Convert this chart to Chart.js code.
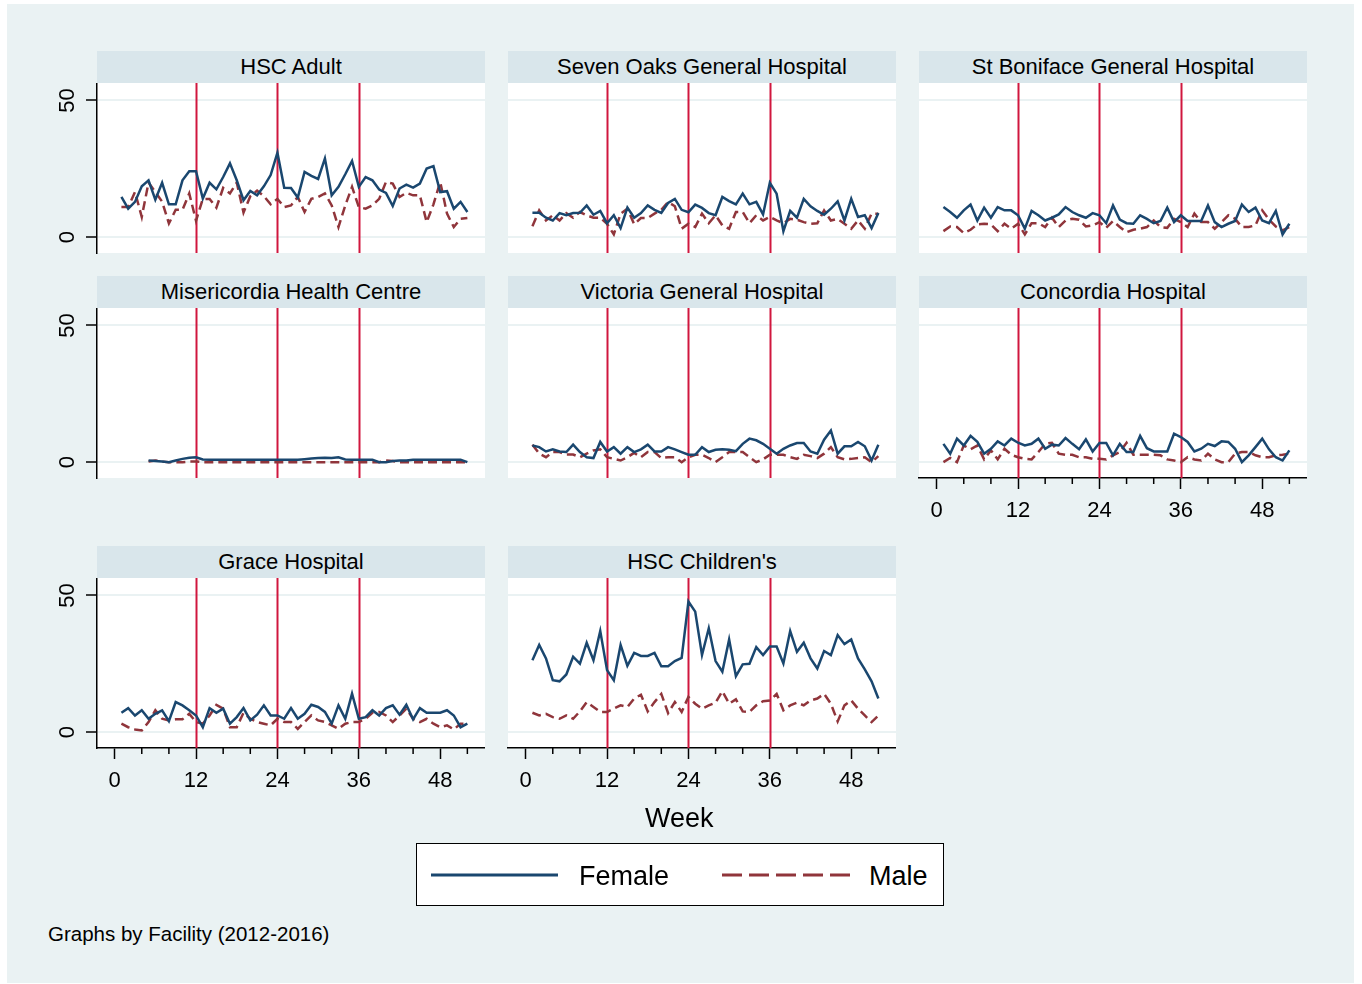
<!DOCTYPE html>
<html>
<head>
<meta charset="utf-8">
<script src="https://cdn.jsdelivr.net/npm/chart.js@4.4.1/dist/chart.umd.min.js"></script>
<style>
  body { margin: 0; background: #fff; font-family: "Liberation Sans", Arial, sans-serif; }
  #bg { position: absolute; left: 7px; top: 4px; width: 1347px; height: 979px; background: #eaf2f3; }
  .band { position: absolute; height: 32px; line-height: 32px; background: #d9e6eb; text-align: center; font-size: 22px; color: #000; }
  .panel { position: absolute; }
  .txt { position: absolute; color: #000; white-space: nowrap; }
  #legend { position: absolute; left: 416px; top: 843px; width: 526px; height: 61px; background: #fff; border: 1.5px solid #000; }
</style>
</head>
<body>
<div id="bg"></div>
<div id="panels"></div>
<div class="txt" style="left:645px;top:803px;font-size:27px;">Week</div>
<div id="legend">
  <svg width="526" height="61" style="position:absolute;left:0;top:0">
    <line x1="14" y1="31" x2="141" y2="31" stroke="#1a476f" stroke-width="3"/>
    <line x1="305" y1="31" x2="434" y2="31" stroke="#90353b" stroke-width="3" stroke-dasharray="20 7"/>
  </svg>
  <div class="txt" style="left:162px;top:17px;font-size:27px;">Female</div>
  <div class="txt" style="left:452px;top:17px;font-size:27px;">Male</div>
</div>
<div class="txt" style="left:48px;top:922px;font-size:20.5px;">Graphs by Facility (2012-2016)</div>

<script>
// ---- data ----
const weeks = [1,2,3,4,5,6,7,8,9,10,11,12,13,14,15,16,17,18,19,20,21,22,23,24,25,26,
               27,28,29,30,31,32,33,34,35,36,37,38,39,40,41,42,43,44,45,46,47,48,49,50,51,52];
const weekTicks  = [0,4,8,12,16,20,24,28,32,36,40,44,48,52];
const weekLabels = [0,12,24,36,48];
const yTicks = [0,50];
const xLines = [12,24,36];

const facilities = ['HSC Adult','Seven Oaks General Hospital','St Boniface General Hospital',
  'Misericordia Health Centre','Victoria General Hospital','Concordia Hospital',
  'Grace Hospital',"HSC Children's"];

const hscAdultF = [14.7,10.4,12.9,18.6,20.8,13.7,19.9,12,12,20.8,24.1,24.1,14.1,19.9,17.5,22,27,20.8,13.5,16.9,15.3,18.6,22.7,30.9,18.1,18,
  14.5,23.9,22.4,21.3,28.8,15.3,18.4,23,27.9,18.4,22,20.8,17.4,16.2,11.4,17.8,19.2,18.1,19.6,25.1,26,16.5,16.8,10.4,12.9,9.2];
const hscAdultM = [11,11,16.5,7.4,20,16.5,13,5,10,10,16,6,14,14,10.8,18,16,20,9,15,17,15,12,14,11,11.6,
  14.7,9.2,14,14.7,16,11.6,3.7,11.6,18.4,11,10.4,11.6,14,20.2,19.6,14.7,16.2,15.3,15.3,5.5,12,20.2,8.6,3.7,6.7,7];

const sevenOaksF = [8.9,8.9,7.1,6.1,8.8,8,8.8,8.9,11.6,8.2,9.6,5.1,8,3.3,10.8,7.1,8.8,11.6,10,8.9,12.5,14,10,9.1,11.9,10.7,
  8.8,8,14.7,13.2,12,15.9,12,12.9,8.3,19.9,15.9,2.2,9.6,7.1,14,11.3,9.6,8.2,10.4,13.1,6.1,14,7.4,8,3.3,8.8];
const sevenOaksM = [4,9.8,6.1,8,6.1,8.8,7.1,9.2,8,7.1,7.1,4.9,1,8.6,10.4,4.7,7,7,8.6,10,12.9,11.3,3.1,4.9,3.7,8.6,
  5.1,8,4.3,3.1,9.2,9.2,5.1,8,6.1,7.4,6.1,5.1,6.7,6.4,5.5,4.9,5.1,9.8,6.1,6.7,4.9,3.1,6.1,3.1,8.6,8.6];

const stBonifaceF = [11,9.2,7.1,9.8,11.9,6.1,10.8,7.1,11,9.8,9.8,8,3.1,9.6,8,6.1,7.1,8.3,11,9.2,8,7.1,8.8,8,5.1,11.6,
  6.4,5.1,4.9,8,6.7,5.1,5.9,10.8,5.5,8,5.9,5.9,5.9,11.6,5.5,3.7,4.9,5.9,11.9,9.2,10.8,6.1,5.1,9.6,1,4.9];
const stBonifaceM = [2.2,3.9,3.7,1.5,2.7,4.7,4.9,4.7,2.2,4.9,3.1,4.9,1,5.1,5.1,3.7,7.1,3.7,6.1,6.7,6.4,3.9,4.3,5.5,3.4,5.9,
  3.7,1.8,2.7,3.1,3.7,6.1,3.7,3.4,6.7,5.5,3.7,8.6,5.5,5.5,3.1,5.5,8,6.7,3.7,3.7,4.3,9.8,6.4,3.9,2.5,3.7];

const misericordiaF = [null,null,null,null,0.6,0.4,0.2,0,0.6,1.2,1.6,1.8,1,0.9,0.9,0.9,0.9,0.9,0.9,0.9,0.9,0.9,0.9,0.9,0.9,0.9,
  0.9,1.1,1.3,1.5,1.6,1.5,1.8,1,0.9,0.9,0.9,0.9,0,0,0.4,0.6,0.6,0.9,0.9,0.9,0.9,0.9,0.9,0.9,0.9,0];
const misericordiaM = [null,null,null,null,0.2,0.6,0.2,0,0,0,0.2,0.2,0,0,0,0,0,0,0,0,0,0,0,0,0,0,
  0,0,0,0,0,0,0,0,0,0,0,0,0,0.6,0.4,0,0,0,0,0,0,0,0,0,0,0];

const victoriaF = [6.1,5.5,3.9,4.7,3.9,3.7,6.4,3.7,1.8,1.5,7.4,3.9,5.5,3.1,5.5,3.7,4.7,6.4,3.9,3.9,5.5,4.7,3.7,2.7,2.7,5.5,
  3.7,4.5,4.7,4.5,4,6.7,8.6,8,6.7,4.9,3.1,4.9,6.1,7,7,3.9,3.1,8.2,11.6,3.1,5.8,5.8,7.4,5.8,0.6,6.4];
const victoriaM = [6.4,3.1,1.8,3.7,3.7,2.8,2.8,1.8,3.1,4.3,4.7,1.8,1.2,0.6,1.8,3.4,1.8,3.7,3.7,1.5,1.8,1.8,0,1.8,2.7,2.7,
  1.5,0,1.8,3.7,3.7,3.7,1.8,0,1,2.7,2.7,2.7,1.8,1.2,2.7,2.2,1.5,3.1,5.5,1.8,1,1.2,1.5,1.8,0,2.2];

const concordiaF = [6.7,3.1,8.6,6.1,9.6,7.4,3.1,4.9,7.6,6.1,8.6,7.1,6.1,6.7,8.6,4.9,6.4,6.1,8.8,6.7,4.7,8.3,3.9,7,7,2.5,
  6.7,3.7,3.7,9.6,5.1,3.9,3.9,3.9,10.4,9.2,7.4,3.9,4.9,6.7,5.9,7.6,7.4,4.9,0,2.5,5.5,8.6,4.7,1.8,0.6,4.3];
const concordiaM = [0,1.5,0,6.1,4.7,6.1,1,4.3,1,4.9,2.7,1.8,1.2,1,3.7,6.7,7.1,3.1,2.7,2.7,1.8,1.8,1.2,1.2,1,2.5,
  3.7,7.1,2.7,2.7,2.7,2.7,2.5,1,0.6,0,1.8,1,0.6,3.1,1,0,0,3.1,3.7,3.7,2.5,1.8,1.8,2.5,2.7,3.1];

const graceF = [7.1,8.8,6.1,8,4.9,6.7,8,4,11,9.8,8,6.1,1.8,8.8,7.1,8.6,3.1,5.5,8.8,4.3,6.4,9.8,6.1,6.1,4.9,8.8,
  4.9,6.7,10,9.2,7.4,3.1,9.8,4.9,14.1,4.9,5.5,8,6.1,8.8,9.8,6.4,10,4.7,8.8,7.1,7.1,7.1,8,6.1,1.8,3.1];
const graceM = [3.1,1.8,1,0.6,3.7,8,4.9,4.3,4.7,4.7,6.7,3.7,3.1,6.1,10,8.6,1.8,1.8,7.1,4.9,3.7,3.1,2.5,4.9,3.7,3.7,
  1.2,3.7,6.1,4.3,3.7,2.5,1.2,3.1,3.7,3.7,4.9,7.1,7.4,6.1,3.7,6.1,8.6,4.9,3.7,4.9,3.1,1.8,2.5,1,3.1,3.1];

const hscChildF = [26.3,31.9,27,19,18.6,21.1,27.6,25.1,32.7,26.3,37,22.7,19,31.9,24.3,29,27.9,27.9,29,24.1,24.1,26,27.2,47.8,44.1,28.2,
  38,26,22.1,33.9,20.5,24.8,25,31.1,28.2,31.3,31.3,25.1,37,29.4,32.7,27,23.3,29.7,28.2,35.5,32.2,33.9,27,23,18.6,12.3];
const hscChildM = [7.1,6.1,6.7,5.5,4.9,6.1,4.9,7.6,11,9.2,7.4,7.4,8.6,9.8,9.2,12.3,13.7,7.6,11,14,7,11,7.4,12.9,10.4,8.6,
  9.8,10.8,15,10.4,12,7.6,7.4,9.8,11.3,11.6,14,8,9.8,10.8,9.8,11.6,12.3,14,10.4,3.9,9.8,11.6,8.6,6.1,3.7,6.1];

const femaleSeries = [hscAdultF, sevenOaksF, stBonifaceF, misericordiaF, victoriaF, concordiaF, graceF, hscChildF];
const maleSeries   = [hscAdultM, sevenOaksM, stBonifaceM, misericordiaM, victoriaM, concordiaM, graceM, hscChildM];

// ---- layout ----
const colLeft = [97, 508, 919];
const bandTop = [51, 276, 546];
const plotW = 388, plotH = 170, bandH = 32;
const padL = 80, padB = 70;
const FONT = '"Liberation Sans", Arial, sans-serif';
const BLUE = '#1a476f', MAROON = '#90353b', RED = '#d0173e';

// plot area background + vertical reference lines + minor ticks
const panelPlugin = {
  id: 'panelDeco',
  beforeDraw(chart) {
    const { ctx, chartArea: a } = chart;
    ctx.save();
    ctx.fillStyle = '#fff';
    ctx.fillRect(a.left, a.top, a.right - a.left, a.bottom - a.top);
    ctx.restore();
  },
  beforeDatasetsDraw(chart) {
    const { ctx, chartArea: a, scales: { x } } = chart;
    ctx.save();
    ctx.strokeStyle = RED;
    ctx.lineWidth = 2;
    xLines.forEach(v => {
      const px = Math.round(x.getPixelForValue(v)) + 0.5;
      ctx.beginPath(); ctx.moveTo(px, a.top); ctx.lineTo(px, a.bottom); ctx.stroke();
    });
    ctx.restore();
  },
  afterDraw(chart) {
    if (!chart.options.showX) return;
    const { ctx, chartArea: a, scales: { x } } = chart;
    ctx.save();
    ctx.strokeStyle = '#000';
    ctx.lineWidth = 1.5;
    weekTicks.filter(v => !weekLabels.includes(v)).forEach(v => {
      const px = x.getPixelForValue(v);
      ctx.beginPath(); ctx.moveTo(px, a.bottom); ctx.lineTo(px, a.bottom + 6); ctx.stroke();
    });
    ctx.restore();
  }
};

const holder = document.getElementById('panels');
const bottomPanels = [5, 6, 7];

facilities.forEach((name, i) => {
  const col = i % 3, row = Math.floor(i / 3);
  const left = colLeft[col], top = bandTop[row];
  const showY = col === 0, showX = bottomPanels.includes(i);

  const band = document.createElement('div');
  band.className = 'band';
  band.style.cssText = `left:${left}px;top:${top}px;width:${plotW}px;`;
  band.textContent = name;
  holder.appendChild(band);

  const wrap = document.createElement('div');
  wrap.className = 'panel';
  wrap.style.cssText = `left:${left - padL}px;top:${top + bandH}px;`;
  const cv = document.createElement('canvas');
  cv.width = plotW + padL; cv.height = plotH + padB;
  wrap.appendChild(cv);
  holder.appendChild(wrap);

  new Chart(cv, {
    type: 'line',
    data: {
      datasets: [
        { data: weeks.map((w, k) => ({ x: w, y: femaleSeries[i][k] })), borderColor: BLUE, borderWidth: 2.5 },
        { data: weeks.map((w, k) => ({ x: w, y: maleSeries[i][k] })), borderColor: MAROON, borderWidth: 2.5, borderDash: [9, 5] }
      ]
    },
    options: {
      responsive: false, animation: false, showX,
      elements: { point: { radius: 0 }, line: { tension: 0 } },
      layout: { padding: 0 },
      plugins: { legend: { display: false }, tooltip: { enabled: false } },
      scales: {
        x: {
          type: 'linear', min: -2.6, max: 54.6,
          afterBuildTicks: s => { s.ticks = weekTicks.map(v => ({ value: v })); },
          afterFit: s => { s.height = padB; s.paddingLeft = 0; s.paddingRight = 0; },
          grid: { drawOnChartArea: false, drawTicks: showX, tickLength: 11, tickWidth: 1.5,
                  tickColor: c => weekLabels.includes(c.tick && c.tick.value) ? '#000' : 'transparent' },
          border: { display: showX, color: '#000', width: 1.5 },
          ticks: { display: showX, autoSkip: false, maxRotation: 0, padding: 9, color: '#000',
                   font: { family: FONT, size: 22 },
                   callback: v => weekLabels.includes(v) ? String(v) : '' }
        },
        y: {
          min: -5.8, max: 56.4,
          afterBuildTicks: s => { s.ticks = yTicks.map(v => ({ value: v })); },
          afterFit: s => { s.width = padL; s.paddingTop = 0; s.paddingBottom = 0; },
          grid: { color: '#eaf2f3', lineWidth: 2, drawTicks: showY, tickLength: 11, tickColor: '#000', tickWidth: 1.5 },
          border: { display: showY, color: '#000', width: 1.5 },
          ticks: { display: showY, minRotation: 90, maxRotation: 90, crossAlign: 'center', padding: 6, color: '#000',
                   font: { family: FONT, size: 22 } }
        }
      }
    },
    plugins: [panelPlugin]
  });
});
</script>
</body>
</html>
